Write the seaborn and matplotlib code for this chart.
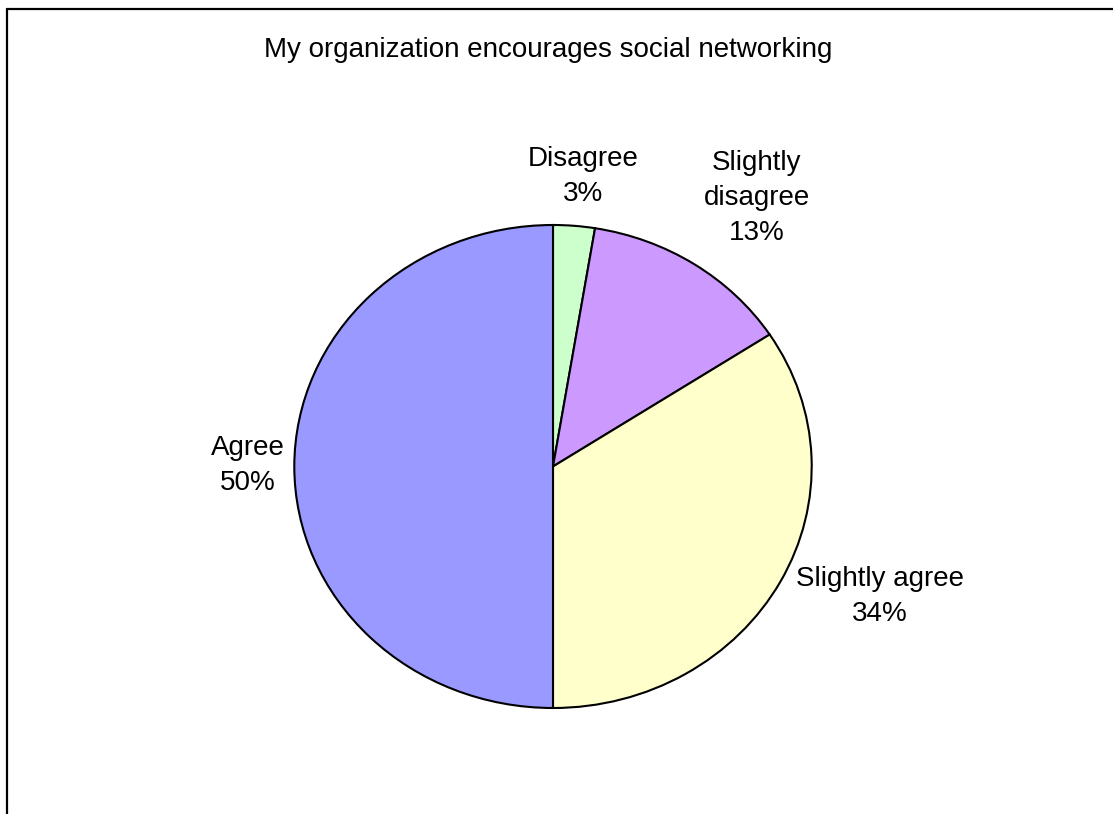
import matplotlib
matplotlib.use("Agg")
import matplotlib.pyplot as plt
from matplotlib.lines import Line2D
import seaborn as sns

# ---- data ----
categories = ["Disagree", "Slightly disagree", "Slightly agree", "Agree"]
label_text = ["Disagree", "Slightly\ndisagree", "Slightly agree", "Agree"]
percent_values = [2.6, 13.2, 34.2, 50.0]
slice_colors = ["#CCFFCC", "#CC99FF", "#FFFFCC", "#9999FF"]
title = "My organization encourages social networking"

# ---- layout (label centres in pie-radius units) ----
label_pos = [(0.116, 1.20), (0.788, 1.112), (1.264, -0.54), (-1.18, 0.006)]

sns.set_theme(style="white")
plt.rcParams["font.family"] = ["Liberation Sans", "DejaVu Sans"]

W, H = 1113, 814
fig = plt.figure(figsize=(W / 100, H / 100), dpi=100)
fig.patch.set_facecolor("white")

# pie axes (slightly elliptical like the reference)
cx, cy, rx, ry = 553, 466.5, 258.7, 241.5
ax = fig.add_axes([(cx - rx) / W, (H - cy - ry) / H, 2 * rx / W, 2 * ry / H])
wedges, _ = ax.pie(
    percent_values,
    colors=slice_colors,
    startangle=90,
    counterclock=False,
    radius=1.0,
    wedgeprops=dict(edgecolor="black", linewidth=1.5),
)
ax.set_aspect("auto")
ax.set_xlim(-1, 1)
ax.set_ylim(-1, 1)
ax.axis("off")

total = sum(percent_values)
for txt, val, (lx, ly) in zip(label_text, percent_values, label_pos):
    ax.text(lx, ly, f"{txt}\n{round(val / total * 100):d}%",
            ha="center", va="center", fontsize=20, color="black",
            linespacing=1.45, clip_on=False)

fig.text(548 / W, 1 - 50 / H, title, ha="center", va="center",
         fontsize=20, color="black")

# outer chart frame (extends beyond the image at right and bottom)
fig.add_artist(Line2D([7 / W, 7 / W], [0, 1 - 8.5 / H], transform=fig.transFigure,
                      color="black", lw=1.6))
fig.add_artist(Line2D([7 / W, 1], [1 - 8.5 / H, 1 - 8.5 / H], transform=fig.transFigure,
                      color="black", lw=1.6))

fig.savefig("out.png", dpi=100, facecolor="white")
